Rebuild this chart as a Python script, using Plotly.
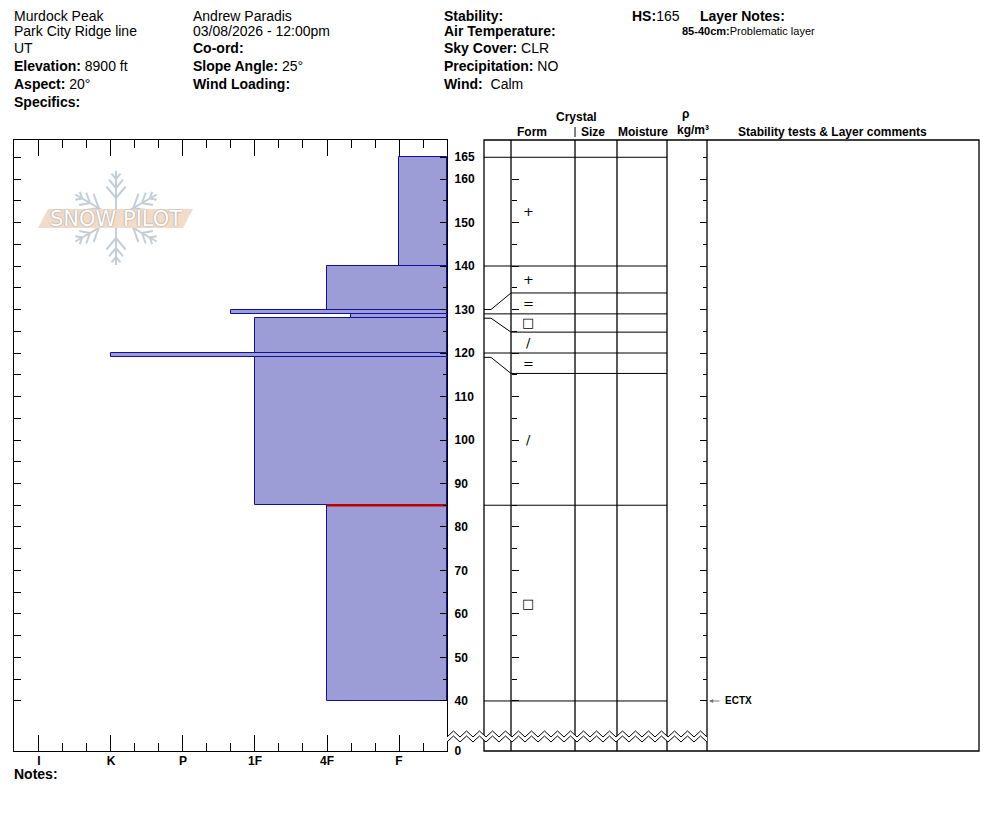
import math
import plotly.graph_objects as go

W, H = 994, 840
OFF = 8                      # page margin of the html body
FW, FH = W - 2 * OFF, H - 2 * OFF
FONT = "Arial, Liberation Sans, sans-serif"

# snow pit layers (cm from ground)
layer_top = [165, 140, 130, 129, 128, 120, 119, 85]
layer_bottom = [140, 130, 129, 128, 120, 119, 85, 40]
layer_hardness = ["F", "4F", "1F+", "4F-", "1F", "K", "1F", "4F"]
layer_form = ["+", "+", "=", "\u25a1", "/", "=", "/", "\u25a1"]
# where each layer is shown in the crystal table (thin layers spread out)
form_top = [165, 140, 133.8, 129, 124.8, 120, 115.3, 85]
form_bottom = [140, 133.8, 129, 124.8, 120, 115.3, 85, 40]

hardness_labels = ["F", "4F", "1F", "P", "K", "I"]
depth_ticks = [40, 50, 60, 70, 80, 90, 100, 110, 120, 130, 140, 150, 160, 165]

test_names = ["ECTX"]
test_depths = [40]

problem_top = 85
problem_bottom = 40
problem_note = "Problematic layer"
total_depth = 165


def px(x):
    return (x - OFF) / FW


def py(y):
    return 1 - (y - OFF) / FH


def hardness_value(h):
    base = hardness_labels.index(h.rstrip("+-")) + 1
    if h.endswith("+"):
        base += 1 / 3
    elif h.endswith("-"):
        base -= 1 / 3
    return base


# plot geometry (page pixels)
LEFT, RIGHT_H, TOP, BOTTOM = 14, 447, 140, 751
T_LEFT, T_RIGHT = 484, 979
COLS = [511, 575, 617, 667, 707]
X_EDGE = 1 / 3          # hardness value at right edge of chart
X_FAR = 6.347           # hardness value at left edge
Y_RANGE = [28.5, 168.97]

fig = go.Figure()

# hardness bars
hv = [hardness_value(h) for h in layer_hardness]
fig.add_trace(go.Bar(
    orientation="h",
    y=[(t + b) / 2 for t, b in zip(layer_top, layer_bottom)],
    width=[t - b for t, b in zip(layer_top, layer_bottom)],
    x=[v - X_EDGE for v in hv],
    base=X_EDGE,
    marker=dict(color="#9c9cd6", line=dict(color="#10109a", width=1)),
    xaxis="x", yaxis="y", showlegend=False, hoverinfo="skip",
))

# problematic layer marker
fig.add_trace(go.Scatter(
    x=[hv[layer_top.index(problem_top)], X_EDGE], y=[problem_top, problem_top],
    mode="lines", line=dict(color="#c00000", width=2.5),
    xaxis="x", yaxis="y", showlegend=False, hoverinfo="skip",
))

# dummy traces so the overlay axes get drawn
for xa, ya in [("x2", "y"), ("x", "y2"), ("x3", "y3"), ("x3", "y4"), ("x3", "y5")]:
    fig.add_trace(go.Scatter(x=[None], y=[None], xaxis=xa, yaxis=ya,
                             showlegend=False, hoverinfo="skip"))

# layer lines in the crystal table
lx, ly = [], []
bounds = list(zip(layer_top, form_top)) + [(layer_bottom[-1], form_bottom[-1])]
for actual, shown in bounds:
    lx += [T_LEFT, 491, COLS[0], COLS[3], None]
    ly += [actual, actual, shown, shown, None]
fig.add_trace(go.Scatter(x=lx, y=ly, mode="lines", line=dict(color="black", width=1),
                         xaxis="x3", yaxis="y3", showlegend=False, hoverinfo="skip"))

minor_x = [k / 3 for k in range(2, 20) if k % 3 != 0]
axis_common = dict(showgrid=False, zeroline=False, linecolor="black", linewidth=1.3,
                   tickcolor="black", tickwidth=1.3, automargin=False)

fig.update_layout(
    width=FW, height=FH, margin=dict(l=0, r=0, t=0, b=0, pad=0),
    paper_bgcolor="white", plot_bgcolor="white",
    font=dict(family=FONT, size=14, color="black"),
    barmode="overlay", bargap=0,
    xaxis=dict(domain=[px(LEFT), px(RIGHT_H)], range=[X_FAR, X_EDGE], anchor="y",
               showline=True, ticks="inside", ticklen=16,
               tickvals=list(range(1, 7)),
               ticktext=[f"<b>{h}</b>" for h in hardness_labels],
               tickfont=dict(size=12), ticklabelstandoff=-2,
               minor=dict(tickvals=minor_x, ticks="inside", ticklen=8,
                          tickcolor="black", tickwidth=1.3),
               **axis_common),
    xaxis2=dict(overlaying="x", side="top", anchor="y", range=[X_FAR, X_EDGE],
                showline=True, ticks="inside", ticklen=16,
                tickvals=list(range(1, 7)), showticklabels=False,
                minor=dict(tickvals=minor_x, ticks="inside", ticklen=8,
                           tickcolor="black", tickwidth=1.3),
                **axis_common),
    yaxis=dict(domain=[py(BOTTOM), py(TOP)], range=Y_RANGE, anchor="x", side="right",
               showline=True, ticks="inside", ticklen=7,
               tickvals=depth_ticks + [Y_RANGE[0]],
               ticktext=[f"<b>{d}</b>" for d in depth_ticks] + ["<b>0</b>"],
               tickfont=dict(size=12), ticklabelstandoff=4,
               minor=dict(tickvals=list(range(45, 160, 10)), ticks="inside", ticklen=4,
                          tickcolor="black", tickwidth=1.3),
               **axis_common),
    yaxis2=dict(overlaying="y", side="left", anchor="x", range=Y_RANGE,
                showline=True, ticks="inside", ticklen=7,
                tickvals=list(range(40, total_depth + 1, 5)), showticklabels=False,
                **axis_common),
    xaxis3=dict(domain=[px(T_LEFT), px(T_RIGHT)], range=[T_LEFT, T_RIGHT], anchor="y3",
                visible=False, automargin=False),
    yaxis3=dict(domain=[py(BOTTOM), py(TOP)], range=Y_RANGE, anchor="x3", visible=False,
                automargin=False),
    yaxis4=dict(overlaying="y3", anchor="free", position=px(COLS[0]), side="left",
                range=Y_RANGE, showline=False, ticks="inside", ticklen=7,
                tickvals=list(range(40, 161, 10)), showticklabels=False,
                minor=dict(tickvals=list(range(45, 160, 10)), ticks="inside", ticklen=5,
                           tickcolor="black", tickwidth=1.3),
                **axis_common),
    yaxis5=dict(overlaying="y3", anchor="free", position=px(COLS[4]), side="right",
                range=Y_RANGE, showline=False, ticks="inside", ticklen=7,
                tickvals=list(range(40, 161, 10)), showticklabels=False,
                minor=dict(tickvals=list(range(45, total_depth + 1, 10)), ticks="inside",
                           ticklen=4, tickcolor="black", tickwidth=1.3),
                **axis_common),
)

shapes = []
# table frame and column lines
shapes.append(dict(type="rect", xref="paper", yref="paper", x0=px(T_LEFT), x1=px(T_RIGHT),
                   y0=py(BOTTOM), y1=py(TOP), line=dict(color="black", width=1.3)))
for c in COLS:
    shapes.append(dict(type="line", xref="paper", yref="paper", x0=px(c), x1=px(c),
                       y0=py(BOTTOM), y1=py(TOP), line=dict(color="black", width=1.3)))
shapes.append(dict(type="line", xref="paper", yref="paper", x0=px(575), x1=px(575),
                   y0=py(137), y1=py(127), line=dict(color="black", width=1)))

# axis break zigzag
zx0, zx1, per = RIGHT_H, COLS[4], 13
n = int(round((zx1 - zx0) / per * 2))
xs = [zx0 + i * (zx1 - zx0) / n for i in range(n + 1)]
upper = [(x, 731 if i % 2 else 737) for i, x in enumerate(xs)]
lower = [(x, 736 if i % 2 else 742) for i, x in enumerate(xs)]
fill = "M " + " L ".join(f"{px(x)},{py(y)}" for x, y in upper + lower[::-1]) + " Z"
shapes.append(dict(type="path", xref="paper", yref="paper", path=fill,
                   fillcolor="white", line=dict(width=0), layer="above"))
for zz in (upper, lower):
    p = "M " + " L ".join(f"{px(x)},{py(y)}" for x, y in zz)
    shapes.append(dict(type="path", xref="paper", yref="paper", path=p,
                       line=dict(color="black", width=1), layer="above"))

# logo: snowflake + banner
cx, cy, arm = 116, 218, 47
flake = "#c3ced6"
for ang in (90, 270, 30, 150, 210, 330):
    a = math.radians(ang)
    ux, uy = math.cos(a), -math.sin(a)
    shapes.append(dict(type="line", xref="paper", yref="paper",
                       x0=px(cx), y0=py(cy), x1=px(cx + ux * arm), y1=py(cy + uy * arm),
                       line=dict(color=flake, width=2)))
    for d, ln in ((20, 15), (30, 11), (39, 7)):
        bx, by = cx + ux * d, cy + uy * d
        for s in (1, -1):
            b = a + s * math.radians(40)
            shapes.append(dict(type="line", xref="paper", yref="paper",
                               x0=px(bx), y0=py(by),
                               x1=px(bx + math.cos(b) * ln), y1=py(by - math.sin(b) * ln),
                               line=dict(color=flake, width=2)))
banner = [(48, 209), (193, 209), (183, 228), (38, 228)]
shapes.append(dict(type="path", xref="paper", yref="paper",
                   path="M " + " L ".join(f"{px(x)},{py(y)}" for x, y in banner) + " Z",
                   fillcolor="#f2dbc7", line=dict(width=0)))
fig.update_layout(shapes=shapes)

ann = []


def text(x, y, s, size=14, xanchor="left", **kw):
    if xanchor == "left":
        x -= 2          # annotation padding
    ann.append(dict(x=px(x), y=py(y), xref="paper", yref="paper", text=s, showarrow=False,
                    xanchor=xanchor, yanchor="middle", font=dict(size=size, **kw)))


rows = [15.5, 31, 48.5, 66, 84, 102]
col1 = ["Murdock Peak", "Park City Ridge line", "UT", "<b>Elevation:</b> 8900 ft",
        "<b>Aspect:</b> 20°", "<b>Specifics:</b>"]
col2 = ["Andrew Paradis", "03/08/2026 - 12:00pm", "<b>Co-ord:</b>",
        "<b>Slope Angle:</b> 25°", "<b>Wind Loading:</b>"]
col3 = ["<b>Stability:</b>", "<b>Air Temperature:</b>", "<b>Sky Cover:</b> CLR",
        "<b>Precipitation:</b> NO", "<b>Wind:</b>\u00a0 Calm"]
for col, x in ((col1, 14), (col2, 193), (col3, 444)):
    for s, y in zip(col, rows):
        text(x, y, s)
text(632, rows[0], f"<b>HS:</b>{total_depth}")
text(700, rows[0], "<b>Layer Notes:</b>")
text(682, 31, f"<b>{problem_top}-{problem_bottom}cm:</b>{problem_note}", size=11)

# table headers
text(576, 117, "<b>Crystal</b>", 12, "center")
text(532, 132, "<b>Form</b>", 12, "center")
text(593, 132, "<b>Size</b>", 12, "center")
text(643, 132, "<b>Moisture</b>", 12, "center")
text(685, 114, "<b>\u03c1</b>", 12, "center")
text(693, 130, "<b>kg/m\u00b3</b>", 12, "center")
text(832, 132, "<b>Stability tests &amp; Layer comments</b>", 12, "center")
text(14, 774, "<b>Notes:</b>")

# logo text
ann.append(dict(x=px(116), y=py(219), xref="paper", yref="paper", text="SNOW PILOT",
                showarrow=False, xanchor="center", yanchor="middle",
                font=dict(size=21, color="white", family="DejaVu Sans",
                          shadow="0px 0px 1.5px #6f7a84")))

# crystal form symbols
for sym, t, b in zip(layer_form, form_top, form_bottom):
    ann.append(dict(x=528, y=(t + b) / 2, xref="x3", yref="y3", text=sym, showarrow=False,
                    xanchor="center", yanchor="middle",
                    font=dict(size=13, color="black", family="DejaVu Sans")))

# stability tests
for name, d in zip(test_names, test_depths):
    ann.append(dict(x=709, y=d, xref="x3", yref="y3", text="", showarrow=True,
                    ax=12, ay=0, arrowhead=2, arrowsize=0.7, arrowwidth=1.2,
                    arrowcolor="#777777"))
    ann.append(dict(x=723, y=d, xref="x3", yref="y3", text=f"<b>{name}</b>",
                    showarrow=False, xanchor="left", font=dict(size=10)))

fig.update_layout(annotations=ann)
fig.write_html("out.html")
